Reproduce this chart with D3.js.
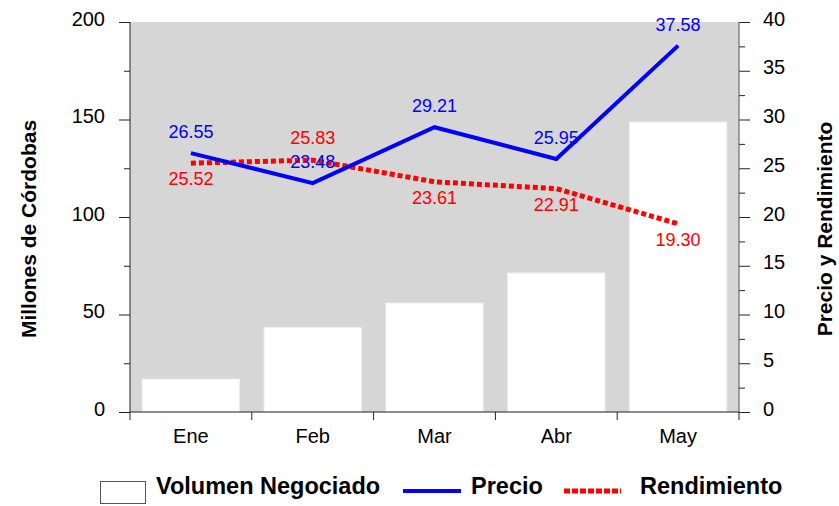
<!DOCTYPE html>
<html>
<head>
<meta charset="utf-8">
<script src="https://cdn.jsdelivr.net/npm/d3@7"></script>
<style>
  body { margin: 0; background: #fff; }
  svg { font-family: "Liberation Sans", Arial, sans-serif; }
</style>
</head>
<body>
<div id="chart"></div>
<script>
// data
var months = ["Ene", "Feb", "Mar", "Abr", "May"];
var volumen = [16.9, 43.3, 55.9, 71.3, 148.7];
var precio = [26.55, 23.48, 29.21, 25.95, 37.58];
var rendimiento = [25.52, 25.83, 23.61, 22.91, 19.30];
// where the Rendimiento label sits (true = above the point)
var rendAbove = [false, true, false, false, false];

var leftTicks = [0, 50, 100, 150, 200];
var rightTicks = [0, 5, 10, 15, 20, 25, 30, 35, 40];

var W = 839, H = 506;
var margin = {top: 22, right: 100, bottom: 94, left: 130},
    width = W - margin.left - margin.right,   // 609
    height = H - margin.top - margin.bottom;  // 390

var svg = d3.select("#chart").append("svg")
    .attr("width", W)
    .attr("height", H);

var g = svg.append("g")
    .attr("transform", "translate(" + margin.left + "," + margin.top + ")");

var x = d3.scaleBand().domain(months).range([0, width]).padding(0);
var yL = d3.scaleLinear().domain([0, 200]).range([height, 0]);
var yR = d3.scaleLinear().domain([0, 40]).range([height, 0]);

// plot background
g.append("rect")
    .attr("width", width)
    .attr("height", height)
    .attr("fill", "#d6d6d6");

// bars
g.selectAll(".bar")
    .data(volumen)
    .enter().append("rect")
    .attr("class", "bar")
    .attr("x", function(d, i) { return x(months[i]) + x.bandwidth() * 0.1; })
    .attr("y", function(d) { return yL(d); })
    .attr("width", x.bandwidth() * 0.8)
    .attr("height", function(d) { return height - yL(d); })
    .attr("fill", "#fff")
    .attr("stroke", "#ececec")
    .attr("stroke-width", 1);

var cx = function(i) { return x(months[i]) + x.bandwidth() / 2; };

// lines
var lineP = d3.line().x(function(d, i) { return cx(i); }).y(function(d) { return yR(d); });

g.append("path")
    .datum(rendimiento)
    .attr("d", lineP)
    .attr("fill", "none")
    .attr("stroke", "#ff0000")
    .attr("stroke-width", 5)
    .attr("stroke-dasharray", "5,3");

g.append("path")
    .datum(precio)
    .attr("d", lineP)
    .attr("fill", "none")
    .attr("stroke", "#0000ff")
    .attr("stroke-width", 4);

// data labels
g.selectAll(".lblP")
    .data(precio)
    .enter().append("text")
    .attr("class", "lblP")
    .attr("x", function(d, i) { return cx(i); })
    .attr("y", function(d) { return yR(d) - 15; })
    .attr("text-anchor", "middle")
    .attr("fill", "#0000ff")
    .style("font-size", "18px")
    .text(function(d) { return d.toFixed(2); });

g.selectAll(".lblR")
    .data(rendimiento)
    .enter().append("text")
    .attr("class", "lblR")
    .attr("x", function(d, i) { return cx(i); })
    .attr("y", function(d, i) { return rendAbove[i] ? yR(d) - 16 : yR(d) + 22; })
    .attr("text-anchor", "middle")
    .attr("fill", "#ff0000")
    .style("font-size", "18px")
    .text(function(d) { return d.toFixed(2); });

// axes
var axisColor = "#222";

var leftAxis = g.append("g")
    .call(d3.axisLeft(yL).tickValues(d3.range(0, 201, 25)).tickSize(11).tickPadding(14)
        .tickFormat(function(d) { return leftTicks.indexOf(d) >= 0 ? d : ""; }));
leftAxis.selectAll(".tick line")
    .attr("x2", function(d) { return leftTicks.indexOf(d) >= 0 ? -11 : -6; });

var rightAxis = g.append("g")
    .attr("transform", "translate(" + width + ",0)")
    .call(d3.axisRight(yR).tickValues(d3.range(0, 40.1, 2.5)).tickSize(11).tickPadding(13)
        .tickFormat(function(d) { return rightTicks.indexOf(d) >= 0 ? d : ""; }));
rightAxis.selectAll(".tick line")
    .attr("x2", function(d) { return rightTicks.indexOf(d) >= 0 ? 11 : 6; });

var xAxis = g.append("g")
    .attr("transform", "translate(0," + height + ")")
    .call(d3.axisBottom(x).tickSize(0).tickPadding(17));

// boundary ticks on the category axis
var bounds = months.map(function(m) { return x(m); }).concat([width]);
xAxis.selectAll(".bound")
    .data(bounds)
    .enter().append("line")
    .attr("class", "bound")
    .attr("x1", function(d) { return d; })
    .attr("x2", function(d) { return d; })
    .attr("y1", 0)
    .attr("y2", 8)
    .attr("stroke", axisColor);

[leftAxis, rightAxis, xAxis].forEach(function(a) {
    a.select(".domain").remove();
    a.selectAll(".tick line").attr("stroke", axisColor);
    a.selectAll("text")
        .attr("fill", "#000")
        .style("font-size", "20px")
        .style("font-family", "'Liberation Sans', Arial, sans-serif");
});
leftAxis.selectAll("text").attr("dy", "3px");
rightAxis.selectAll("text").attr("dy", "3px");

g.append("line").attr("x1", 0).attr("x2", 0).attr("y1", 0).attr("y2", height).attr("stroke", axisColor);
g.append("line").attr("x1", width).attr("x2", width).attr("y1", 0).attr("y2", height).attr("stroke", "#555");
g.append("line").attr("x1", 0).attr("x2", width).attr("y1", height).attr("y2", height).attr("stroke", axisColor);

// axis titles
svg.append("text")
    .attr("transform", "translate(36,229) rotate(-90)")
    .attr("text-anchor", "middle")
    .style("font-size", "21px")
    .style("font-weight", "bold")
    .text("Millones de Córdobas");

svg.append("text")
    .attr("transform", "translate(832,229) rotate(-90)")
    .attr("text-anchor", "middle")
    .style("font-size", "21px")
    .style("font-weight", "bold")
    .text("Precio y Rendimiento");

// legend
var leg = svg.append("g");
leg.append("rect")
    .attr("x", 100.5).attr("y", 481.5)
    .attr("width", 45).attr("height", 22)
    .attr("fill", "#fff").attr("stroke", "#555");
leg.append("text").attr("x", 156).attr("y", 494)
    .style("font-size", "23.5px").style("font-weight", "bold")
    .text("Volumen Negociado");

leg.append("line")
    .attr("x1", 403).attr("x2", 461).attr("y1", 491).attr("y2", 491)
    .attr("stroke", "#0000ff").attr("stroke-width", 4);
leg.append("text").attr("x", 471).attr("y", 494)
    .style("font-size", "23.5px").style("font-weight", "bold")
    .text("Precio");

leg.append("line")
    .attr("x1", 564).attr("x2", 621).attr("y1", 491).attr("y2", 491)
    .attr("stroke", "#ff0000").attr("stroke-width", 5).attr("stroke-dasharray", "6,2");
leg.append("text").attr("x", 640).attr("y", 494)
    .style("font-size", "23.5px").style("font-weight", "bold")
    .text("Rendimiento");
</script>
</body>
</html>
